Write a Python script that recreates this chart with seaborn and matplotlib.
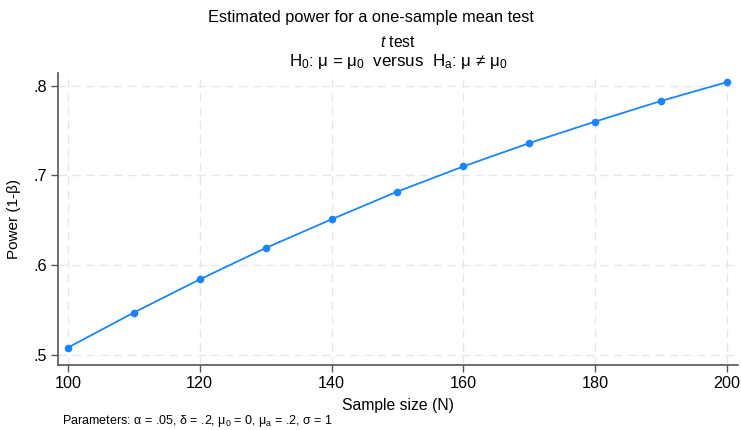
import matplotlib
matplotlib.use("Agg")
import matplotlib.pyplot as plt
import seaborn as sns
import pandas as pd
from matplotlib.ticker import FuncFormatter

# values
sample_size = [100, 110, 120, 130, 140, 150, 160, 170, 180, 190, 200]
power = [0.508, 0.547, 0.584, 0.619, 0.651, 0.682, 0.710, 0.736, 0.760, 0.783, 0.804]
x_ticks = [100, 120, 140, 160, 180, 200]
y_ticks = [0.5, 0.6, 0.7, 0.8]

df = pd.DataFrame({"N": sample_size, "power": power})

sns.set_style("white")
plt.rcParams["font.family"] = ["Liberation Sans", "DejaVu Sans"]
plt.rcParams["mathtext.fontset"] = "custom"
plt.rcParams["mathtext.rm"] = "Liberation Sans"
plt.rcParams["mathtext.it"] = "Liberation Sans:italic"
plt.rcParams["text.color"] = "black"
plt.rcParams["axes.labelcolor"] = "black"
plt.rcParams["xtick.color"] = "black"
plt.rcParams["ytick.color"] = "black"

fig = plt.figure(figsize=(7.41, 4.30), dpi=100)
ax = fig.add_axes([0.0783, 0.151, 0.918, 0.680])

sns.lineplot(data=df, x="N", y="power", ax=ax, color="#1a85ff", linewidth=1.3,
             marker="o", markersize=5.5, markeredgewidth=0)

ax.set_xlim(98.5, 201.7)
ax.set_ylim(0.4885, 0.8145)
ax.set_xticks(x_ticks)
ax.set_yticks(y_ticks)
ax.yaxis.set_major_formatter(FuncFormatter(lambda v, p: f"{v:.1f}".lstrip("0")))
ax.grid(True, color="#e6e6e6", linestyle=(0, (6, 4)), linewidth=1)
ax.set_axisbelow(True)

for side in ["top", "right"]:
    ax.spines[side].set_visible(False)
for side in ["left", "bottom"]:
    ax.spines[side].set_color("#555555")
    ax.spines[side].set_linewidth(1.2)
ax.tick_params(axis="both", bottom=True, left=True, direction="out", length=5, width=1,
               color="#555555", labelcolor="black", labelsize=11.6, pad=3)

ax.set_xlabel("Sample size (N)", fontsize=11.3, labelpad=5)
ax.set_ylabel("Power (1-β)", fontsize=11, labelpad=9)

# subtitle lines are centred over the plot region, title over the figure
plot_mid = 0.0783 + 0.918 / 2
fig.text(0.5, 0.960, "Estimated power for a one-sample mean test", ha="center", va="center", fontsize=11.8)
fig.text(plot_mid, 0.902, "$t$ test", ha="center", va="center", fontsize=11.3)
fig.text(plot_mid, 0.858, r"H$_\mathrm{0}$: μ = μ$_\mathrm{0}$  versus  H$_\mathrm{a}$: μ ≠ μ$_\mathrm{0}$",
         ha="center", va="center", fontsize=12.2)
fig.text(0.083, 0.022, r"Parameters: α = .05, δ = .2, μ$_\mathrm{0}$ = 0, μ$_\mathrm{a}$ = .2, σ = 1",
         ha="left", va="center", fontsize=9)

fig.savefig("out.png", dpi=100)
